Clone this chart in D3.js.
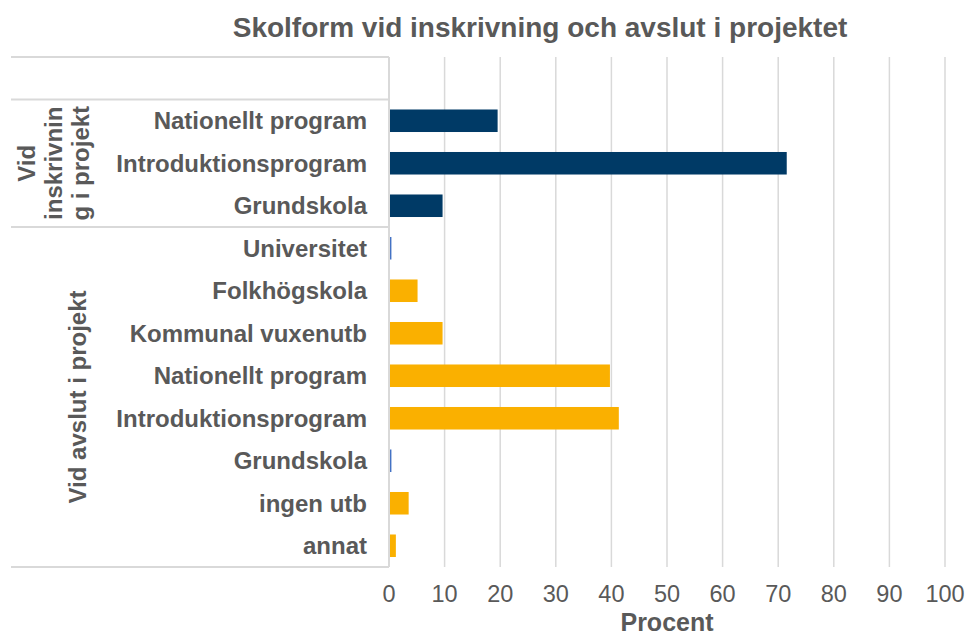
<!DOCTYPE html>
<html>
<head>
<meta charset="utf-8">
<script src="https://cdn.jsdelivr.net/npm/d3@7"></script>
<style>
  body { margin: 0; background: #fff; overflow: hidden; }
  text { font-family: "Liberation Sans", Arial, sans-serif; fill: #595959; }
</style>
</head>
<body>
<svg id="chart"></svg>
<script>
// data
const labels = ["", "Nationellt program", "Introduktionsprogram", "Grundskola",
  "Universitet", "Folkhögskola", "Kommunal vuxenutb", "Nationellt program",
  "Introduktionsprogram", "Grundskola", "ingen utb", "annat"];
const values = [null, 19.4, 71.4, 9.5, 0.3, 5.0, 9.5, 39.6, 41.2, 0.3, 3.4, 1.1];
const barColors = [null, "#003a66", "#003a66", "#003a66", "#4472c4", "#fab000",
  "#fab000", "#fab000", "#fab000", "#4472c4", "#fab000", "#fab000"];
const groups = [
  { lines: ["Vid", "inskrivnin", "g i projekt"], from: 1, to: 3 },
  { lines: ["Vid avslut i projekt"], from: 4, to: 11 }
];
const ticks = [0, 10, 20, 30, 40, 50, 60, 70, 80, 90, 100];

const width = 968, height = 633;
const plotLeft = 389, plotRight = 945, plotTop = 57, plotBottom = 567;

const svg = d3.select("#chart").attr("width", width).attr("height", height);

let x = d3.scaleLinear().domain([0, 100]).range([plotLeft, plotRight]);
let y = d3.scaleBand().domain(d3.range(labels.length)).range([plotTop, plotBottom])
  .paddingInner(0.47).paddingOuter(0.235);
let row = d3.scaleBand().domain(d3.range(labels.length)).range([plotTop, plotBottom]);

//gridlines
svg.append("g")
  .selectAll("line")
  .data(ticks.slice(1))
  .join("line")
  .attr("x1", d => x(d)).attr("x2", d => x(d))
  .attr("y1", plotTop).attr("y2", plotBottom)
  .attr("stroke", "#d9d9d9").attr("stroke-width", 1.5);

//title
svg.append("text")
  .attr("x", 540).attr("y", 37)
  .attr("text-anchor", "middle")
  .style("font-size", "28px").style("font-weight", "bold")
  .text("Skolform vid inskrivning och avslut i projektet");

//bars
svg.append("g")
  .selectAll("rect")
  .data(d3.range(labels.length).filter(i => values[i] != null))
  .join("rect")
  .attr("x", x(0) + 0.75)
  .attr("y", i => y(i))
  .attr("width", i => x(values[i]) - x(0))
  .attr("height", y.bandwidth())
  .attr("fill", i => barColors[i]);

//category labels
svg.append("g")
  .selectAll("text")
  .data(d3.range(labels.length))
  .join("text")
  .attr("x", 367)
  .attr("y", i => row(i) + row.bandwidth() / 2)
  .attr("dy", "0.35em")
  .attr("text-anchor", "end")
  .style("font-size", "24px").style("font-weight", "bold")
  .text(i => labels[i]);

//group separators
const seps = [row(0), row(groups[0].from), row(groups[1].from), plotBottom];
svg.append("g")
  .selectAll("line")
  .data(seps)
  .join("line")
  .attr("x1", 11).attr("x2", plotLeft)
  .attr("y1", d => d).attr("y2", d => d)
  .attr("stroke", "#d9d9d9").attr("stroke-width", 2);

//axis line
svg.append("line")
  .attr("x1", plotLeft).attr("x2", plotLeft)
  .attr("y1", plotTop).attr("y2", plotBottom)
  .attr("stroke", "#d9d9d9").attr("stroke-width", 2);

//group labels, rotated
const lineGap = 27;
groups.forEach(g => {
  let cy = (row(g.from) + row(g.to) + row.bandwidth()) / 2;
  let n = g.lines.length;
  let cx0 = n == 1 ? 78 : 54;
  g.lines.forEach((t, k) => {
    let cx = cx0 + (k - (n - 1) / 2) * lineGap;
    svg.append("text")
      .attr("transform", `translate(${cx},${cy}) rotate(-90)`)
      .attr("text-anchor", "middle")
      .attr("dy", "0.35em")
      .style("font-size", "24px").style("font-weight", "bold")
      .text(t);
  });
});

//x tick labels
svg.append("g")
  .selectAll("text")
  .data(ticks)
  .join("text")
  .attr("x", d => x(d))
  .attr("y", 602)
  .attr("text-anchor", "middle")
  .style("font-size", "23.5px")
  .text(d => d);

svg.append("text")
  .attr("x", (plotLeft + plotRight) / 2).attr("y", 631)
  .attr("text-anchor", "middle")
  .style("font-size", "25px").style("font-weight", "bold")
  .text("Procent");
</script>
</body>
</html>
